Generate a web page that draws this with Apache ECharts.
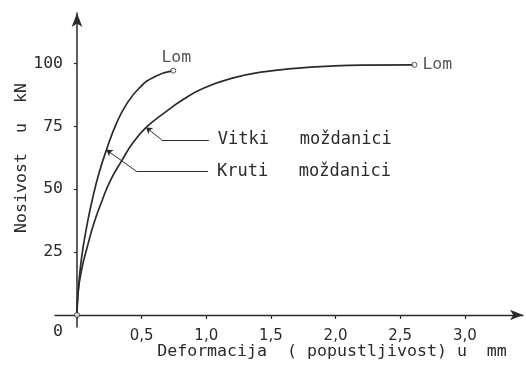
<!DOCTYPE html>
<html>
<head>
<meta charset="utf-8">
<script src="https://cdn.jsdelivr.net/npm/echarts@6/dist/echarts.min.js"></script>
<style>
  html, body { margin: 0; padding: 0; background: #fff; }
  #chart { width: 526px; height: 372px; }
</style>
</head>
<body>
<div id="chart"></div>
<script>
// Load–slip curves of shear connectors (force in kN vs. slip in mm)
const krutiX = [0, 0.008, 0.027, 0.048, 0.080, 0.118, 0.170, 0.228, 0.306, 0.380, 0.480, 0.600, 0.745];
const krutiY = [0, 8.6, 19.2, 27.1, 36.4, 45.7, 56.3, 65.6, 76.2, 83.5, 90.1, 94.7, 97.1];

const vitkiX = [0, 0.008, 0.041, 0.080, 0.131, 0.196, 0.261, 0.350, 0.430, 0.535, 0.673, 0.827, 0.982, 1.21, 1.44, 1.69, 1.96, 2.21, 2.61];
const vitkiY = [0, 8.6, 19.2, 27.1, 36.4, 45.7, 53.7, 61.6, 68.2, 74.5, 80.2, 85.8, 90.2, 94.2, 96.6, 98.0, 98.9, 99.3, 99.4];

const xTicks = [0, 0.5, 1, 1.5, 2, 2.5, 3];
const xTickLabels = ['', '0,5', '1,0', '1,5', '2,0', '2,5', '3,0'];
const yTicks = [0, 25, 50, 75, 100];
const yTickLabels = ['0', '25', '50', '75', '100'];

const xName = 'Deformacija  ( popustljivost) u  mm';
const yName = 'Nosivost  u  kN';
const krutiName = 'Kruti   moždanici';
const vitkiName = 'Vitki   moždanici';
const breakLabel = 'Lom';

// index of the curve point each callout arrow touches
const krutiPointerIdx = 7;
const vitkiPointerIdx = 9;

const INK = '#2b2b2b';
const MONO = '"DejaVu Sans Mono", "Liberation Mono", monospace';

// axis ranges run a little past the origin so both axes cross there
const X_MIN = -0.17, X_MAX = 3.45;
const Y_MIN = -4.8, Y_MAX = 120;
const GRID = { left: 55, right: 3, top: 13, bottom: 45 };
const PLOT_W = 526 - GRID.left - GRID.right;
const PLOT_H = 372 - GRID.top - GRID.bottom;
// shift each axis from the grid edge onto the other axis' zero
const yAxisShift = -Math.round((0 - X_MIN) / (X_MAX - X_MIN) * PLOT_W);
const xAxisShift = -Math.round((0 - Y_MIN) / (Y_MAX - Y_MIN) * PLOT_H);

const zip = (xs, ys) => xs.map((x, i) => [x, ys[i]]);
const krutiData = zip(krutiX, krutiY);
const vitkiData = zip(vitkiX, vitkiY);

function callout(pt, elbow, endX, text) {
  const ls = { color: INK, width: 1, type: 'solid' };
  return [
    [
      { coord: pt, symbol: 'arrow', symbolSize: 6, lineStyle: ls, label: { show: false } },
      { coord: [elbow[0], elbow[1]], symbol: 'none' }
    ],
    [
      { coord: [elbow[0], elbow[1]], symbol: 'none', lineStyle: ls },
      { coord: [endX, elbow[1]], symbol: 'none',
        label: { show: true, position: 'end', distance: 9, formatter: text,
                 fontFamily: MONO, fontSize: 17, color: INK } }
    ]
  ];
}

const chart = echarts.init(document.getElementById('chart'), null, { renderer: 'canvas' });

const krutiPt = krutiData[krutiPointerIdx];
const vitkiPt = vitkiData[vitkiPointerIdx];

chart.setOption({
  animation: false,
  backgroundColor: '#fff',
  grid: Object.assign({ containLabel: false, outerBoundsMode: 'none' }, GRID),
  xAxis: {
    type: 'value',
    min: X_MIN,
    max: X_MAX,
    offset: xAxisShift,
    splitLine: { show: false },
    axisLine: { onZero: false, lineStyle: { color: INK, width: 1.3 },
                symbol: ['none', 'arrow'], symbolSize: [8, 13] },
    axisTick: { show: true, length: 4, customValues: xTicks, lineStyle: { color: INK, width: 1.2 } },
    axisLabel: {
      customValues: xTicks,
      margin: 14,
      fontFamily: '"DejaVu Sans", sans-serif',
      fontSize: 15,
      color: INK,
      formatter: v => xTickLabels[xTicks.indexOf(v)] ?? ''
    }
  },
  yAxis: {
    type: 'value',
    min: Y_MIN,
    max: Y_MAX,
    offset: yAxisShift,
    splitLine: { show: false },
    axisLine: { onZero: false, lineStyle: { color: INK, width: 1.5 },
                symbol: ['none', 'arrow'], symbolSize: [8, 14] },
    axisTick: { show: true, length: 3, customValues: yTicks, lineStyle: { color: INK, width: 1.2 } },
    axisLabel: {
      customValues: yTicks,
      margin: 14,
      fontFamily: MONO,
      fontSize: 16.5,
      color: INK,
      formatter: v => {
        const t = yTickLabels[yTicks.indexOf(v)] ?? '';
        return v === 0 ? '{o|' + t + '}' : t;
      },
      rich: { o: { padding: [34, 0, 0, 0], fontFamily: MONO, fontSize: 16.5, color: INK } }
    }
  },
  graphic: [
    { type: 'text', x: 332, y: 352,
      style: { text: xName, font: '16.6px ' + MONO, fill: INK, align: 'center', verticalAlign: 'middle' } },
    { type: 'text', x: 22, y: 158, rotation: Math.PI / 2,
      style: { text: yName, font: '16.6px ' + MONO, fill: INK, align: 'center', verticalAlign: 'middle' } }
  ],
  series: [
    {
      name: krutiName.replace(/\s+/g, ' '),
      type: 'line',
      data: krutiData,
      smooth: 0.5,
      showSymbol: false,
      lineStyle: { color: INK, width: 1.7 },
      markLine: {
        silent: true,
        symbol: 'none',
        data: callout(krutiPt, [0.462, 57.0], 1.013, krutiName)
      }
    },
    {
      name: vitkiName.replace(/\s+/g, ' '),
      type: 'line',
      data: vitkiData,
      smooth: 0.5,
      showSymbol: false,
      lineStyle: { color: INK, width: 1.7 },
      markLine: {
        silent: true,
        symbol: 'none',
        data: callout(vitkiPt, [0.655, 69.6], 1.02, vitkiName)
      }
    },
    {
      type: 'scatter',
      symbol: 'circle',
      symbolSize: 5,
      itemStyle: { color: '#fff', borderColor: INK, borderWidth: 1 },
      z: 5,
      data: [
        { value: [0, 0] },
        { value: krutiData[krutiData.length - 1],
          label: { show: true, formatter: breakLabel, position: 'top', offset: [3, 3], distance: 4,
                   fontFamily: MONO, fontSize: 16.5, color: INK } },
        { value: vitkiData[vitkiData.length - 1],
          label: { show: true, formatter: breakLabel, position: 'right', distance: 5,
                   fontFamily: MONO, fontSize: 16.5, color: INK } }
      ]
    }
  ]
});
</script>
</body>
</html>
